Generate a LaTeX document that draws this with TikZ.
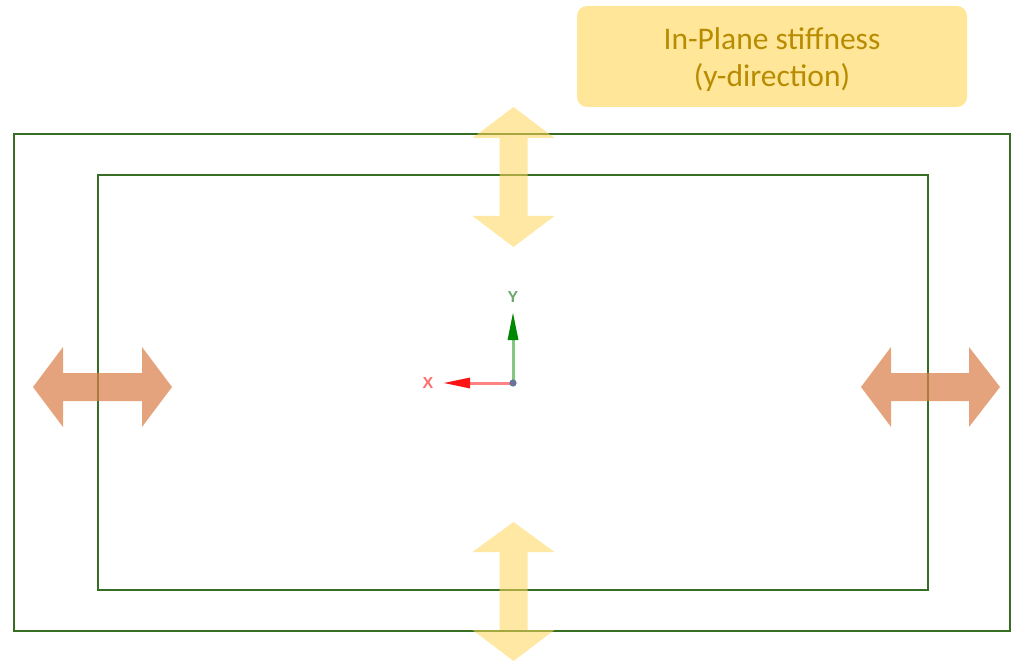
\documentclass[tikz,border=0pt]{standalone}
\usepackage{fontspec}
\setmainfont{Carlito}
\setsansfont{Liberation Sans}
\usetikzlibrary{arrows.meta}
\definecolor{frame}{RGB}{56,110,36}
\definecolor{loadY}{RGB}{255,214,90}
\definecolor{loadX}{RGB}{218,128,74}
\definecolor{boxfill}{RGB}{255,230,153}
\definecolor{boxtext}{RGB}{184,140,0}
\definecolor{axYhead}{RGB}{0,135,0}
\definecolor{axYshaft}{RGB}{130,200,130}
\definecolor{axYlab}{RGB}{110,170,110}
\definecolor{axXhead}{RGB}{250,20,20}
\definecolor{axXshaft}{RGB}{255,130,130}
\definecolor{axXlab}{RGB}{255,110,110}
\definecolor{origin}{RGB}{105,115,155}
\tikzset{
  plate/.style={draw=frame, line width=1.3pt},
  ydouble/.style={fill=loadY, fill opacity=0.55},
  xdouble/.style={fill=loadX, fill opacity=0.72},
  axlab/.style={font=\sffamily\bfseries\fontsize{16}{16}\selectfont}
}
\begin{document}
\begin{tikzpicture}[x=1pt,y=-1pt]
\useasboundingbox (0,0) rectangle (1012,663);

% outer and inner edges of the plate
\draw[plate] (14,134) rectangle (1010,631);
\draw[plate] (98,175) rectangle (928,590);

% vertical double arrows (y-direction)
\fill[ydouble] (513.5,107) -- (554.5,138) -- (527.5,138) -- (527.5,216) -- (554.5,216)
  -- (513.5,247) -- (472.5,216) -- (499.5,216) -- (499.5,138) -- (472.5,138) -- cycle;
\fill[ydouble] (513.5,522) -- (554.5,552) -- (527.5,552) -- (527.5,630) -- (554.5,630)
  -- (513.5,661) -- (472.5,630) -- (499.5,630) -- (499.5,552) -- (472.5,552) -- cycle;

% horizontal double arrows (x-direction)
\fill[xdouble] (33,387) -- (63,347) -- (63,373) -- (142,373) -- (142,347)
  -- (172,387) -- (142,427) -- (142,401) -- (63,401) -- (63,427) -- cycle;
\fill[xdouble] (861,387) -- (891,347) -- (891,373) -- (969,373) -- (969,347)
  -- (1000,387) -- (969,427) -- (969,401) -- (891,401) -- (891,427) -- cycle;

% label
\fill[boxfill, rounded corners=10pt] (577,6) rectangle (967,107);
\node[align=center, text=boxtext, font=\fontsize{31.5}{37}\selectfont] (lab) at (772,60)
  {In-Plane stiffness\\(y-direction)};

% coordinate triad
\coordinate (o) at (513,383);
\coordinate (ytip) at (513,312);
\coordinate (xtip) at (443,383);
\draw[axYshaft, line width=3pt, -{Triangle[length=28pt,width=10pt,color=axYhead]}] (o) -- (ytip);
\draw[axXshaft, line width=3pt, -{Triangle[length=27pt,width=10pt,color=axXhead]}] (o) -- (xtip);
\fill[origin] (o) circle (3.6pt);
\node[axlab, text=axYlab] (ylab) at (513,297) {Y};
\node[axlab, text=axXlab] (xlab) at (428,383) {X};
\end{tikzpicture}
\end{document}
